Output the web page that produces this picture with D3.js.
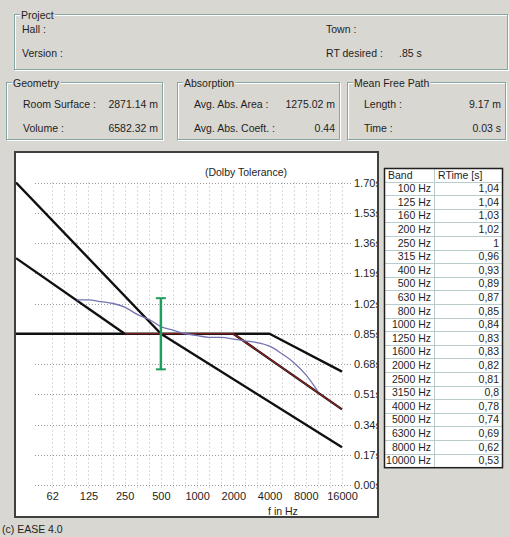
<!DOCTYPE html>
<html>
<head>
<meta charset="utf-8">
<script src="https://cdn.jsdelivr.net/npm/d3@7/dist/d3.min.js"></script>
<style>
  html, body { margin: 0; padding: 0; background: #d9d7d2; }
  svg { display: block; font-family: Arial, "Liberation Sans", sans-serif; font-size: 10.5px; }
  text { fill: #1e1e1e; }
</style>
</head>
<body>
<svg id="chart" width="510" height="537"></svg>
<script>
// Reverberation time per third-octave band (table + measured curve)
const bandLabels = ["100 Hz","125 Hz","160 Hz","200 Hz","250 Hz","315 Hz","400 Hz","500 Hz","630 Hz","800 Hz","1000 Hz",
  "1250 Hz","1600 Hz","2000 Hz","2500 Hz","3150 Hz","4000 Hz","5000 Hz","6300 Hz","8000 Hz","10000 Hz"];
const bandFreqs = [100,125,160,200,250,315,400,500,630,800,1000,1250,1600,2000,2500,3150,4000,5000,6300,8000,10000];
const rtValues = [1.04,1.04,1.03,1.02,1,0.96,0.93,0.89,0.87,0.85,0.84,0.83,0.83,0.82,0.81,0.8,0.78,0.74,0.69,0.62,0.53];
const rtLabels = ["1,04","1,04","1,03","1,02","1","0,96","0,93","0,89","0,87","0,85","0,84","0,83","0,83","0,82","0,81","0,8","0,78","0,74","0,69","0,62","0,53"];

// Axis ticks
const xTickFreqs = [62.5,125,250,500,1000,2000,4000,8000,16000];
const xTickLabels = ["62","125","250","500","1000","2000","4000","8000","16000"];
const yTickValues = [0,0.17,0.34,0.51,0.68,0.85,1.02,1.19,1.36,1.53,1.70];
const gridFreqs = [62.5,78.75,99.2,125,157.5,198.4,250,315,396.9,500,630,793.7,1000,1260,1587,2000,2520,3175,4000,5040,6350,8000,10080,12700,16000];

// Dolby tolerance limit lines (frequency, RT in s)
const limitSteep = [[31.25,1.70],[500,0.85],[16000,0.2125]];
const limitFlat = [[31.25,0.85],[4000,0.85],[16000,0.6375]];
const limitLowBass = [[31.25,1.275],[250,0.85]];
const limitTreble = [[2000,0.85],[16000,0.425]];
const targetCurve = [[250,0.85],[2000,0.85],[16000,0.425]];
const toleranceBar = {freq: 500, low: 0.65, high: 1.05};

// Header info fields
const projectFields = [
  {label:"Hall :", value:"", x:22, y:33},
  {label:"Version :", value:"", x:22, y:57},
  {label:"Town :", value:"", x:326, y:33},
  {label:"RT desired :", value:".85 s", x:326, y:57, vx:399}
];
const groups = [
  {title:"Geometry", x:7, w:156, rows:[["Room Surface :","2871.14 m"],["Volume :","6582.32 m"]]},
  {title:"Absorption", x:178, w:162, rows:[["Avg. Abs. Area :","1275.02 m"],["Avg. Abs. Coeft. :","0.44"]]},
  {title:"Mean Free Path", x:348, w:158, rows:[["Length :","9.17 m"],["Time :","0.03 s"]]}
];

const svg = d3.select("#chart");

// Etched group box
function groupBox(x, y, w, h, title) {
  const g = svg.append("g");
  g.append("rect").attr("x", x + 0.5).attr("y", y + 0.5).attr("width", w).attr("height", h)
    .attr("fill", "none").attr("stroke", "#ffffff");
  g.append("rect").attr("x", x - 0.5).attr("y", y - 0.5).attr("width", w).attr("height", h)
    .attr("fill", "none").attr("stroke", "#86a6a4");
  const t = g.append("text").attr("x", x + 6).attr("y", y + 4).text(title);
  const bb = t.node().getBBox();
  g.insert("rect", "text").attr("x", bb.x - 1).attr("y", bb.y).attr("width", bb.width + 2).attr("height", bb.height)
    .attr("fill", "#d9d7d2");
  return g;
}

groupBox(15, 15, 493, 55, "Project");
projectFields.forEach(f => {
  svg.append("text").attr("x", f.x).attr("y", f.y).text(f.label);
  if (f.value) svg.append("text").attr("x", f.vx).attr("y", f.y).text(f.value);
});

groups.forEach(gr => {
  groupBox(gr.x, 83, gr.w, 57, gr.title);
  gr.rows.forEach((r, i) => {
    svg.append("text").attr("x", gr.x + 16).attr("y", 108 + i * 24).text(r[0]);
    svg.append("text").attr("x", gr.x + gr.w - 5).attr("y", 108 + i * 24).attr("text-anchor", "end").text(r[1]);
  });
});

// Chart panel
const panel = {x: 15, y: 152, w: 363, h: 365};
svg.append("rect").attr("x", panel.x).attr("y", panel.y).attr("width", panel.w).attr("height", panel.h)
  .attr("fill", "#ffffff").attr("stroke", "#404040").attr("stroke-width", 2);
svg.append("defs").append("clipPath").attr("id", "plotClip")
  .append("rect").attr("x", panel.x + 1).attr("y", panel.y + 1).attr("width", panel.w - 2).attr("height", panel.h - 2);

const x = d3.scaleLog().base(2).domain([31.25, 16000]).range([16, 342]);
const y = d3.scaleLinear().domain([0, 1.70]).range([485, 182.5]);

const plot = svg.append("g").attr("clip-path", "url(#plotClip)");

// Dotted grid
plot.append("g").selectAll("line").data(yTickValues).join("line")
  .attr("x1", 35).attr("x2", 352).attr("y1", d => Math.round(y(d)) + 0.5).attr("y2", d => Math.round(y(d)) + 0.5)
  .attr("stroke", "#9a9a9a").attr("stroke-width", 1).attr("stroke-dasharray", "1,2");
plot.append("g").selectAll("line").data(gridFreqs).join("line")
  .attr("x1", d => Math.round(x(d)) + 0.5).attr("x2", d => Math.round(x(d)) + 0.5)
  .attr("y1", y(1.70)).attr("y2", y(0) + 4)
  .attr("stroke", "#b4b4b4").attr("stroke-width", 1).attr("stroke-dasharray", "1,3");

// Y axis labels (right side)
const yAxis = d3.axisRight(y).tickValues(yTickValues).tickSize(0).tickPadding(0).tickFormat(d => d.toFixed(2) + "s");
const yg = plot.append("g").attr("transform", "translate(354,0)").call(yAxis);
yg.select(".domain").remove();
yg.selectAll("text").attr("font-size", 11).attr("font-family", "Arial, 'Liberation Sans', sans-serif").attr("fill", "#1e1e1e");

// X axis labels
const xAxis = d3.axisBottom(x).tickValues(xTickFreqs).tickSize(0).tickPadding(0).tickFormat((d, i) => xTickLabels[i]);
const xg = plot.append("g").attr("transform", "translate(0,492)").call(xAxis);
xg.select(".domain").remove();
xg.selectAll("text").attr("font-size", 11).attr("font-family", "Arial, 'Liberation Sans', sans-serif").attr("fill", "#1e1e1e");
plot.append("text").attr("x", 283).attr("y", 515).attr("text-anchor", "middle").text("f in Hz");

// Title
plot.append("text").attr("x", 246).attr("y", 176).attr("text-anchor", "middle").text("(Dolby Tolerance)");

const line = d3.line().x(d => x(d[0])).y(d => y(d[1]));

// Tolerance limits
[limitSteep, limitFlat, limitLowBass, limitTreble].forEach(pts => {
  plot.append("path").datum(pts).attr("d", line).attr("fill", "none")
    .attr("stroke", "#101010").attr("stroke-width", 2.4).attr("stroke-linejoin", "round");
});
plot.append("path").datum(targetCurve).attr("d", line).attr("fill", "none")
  .attr("stroke", "#a02020").attr("stroke-width", 1.2);

// Measured reverberation time
const rtLine = d3.line().curve(d3.curveMonotoneX).x(d => x(d[0])).y(d => y(d[1]));
plot.append("path").datum(bandFreqs.map((f, i) => [f, rtValues[i]])).attr("d", rtLine)
  .attr("fill", "none").attr("stroke", "#7474b4").attr("stroke-width", 1.3);

// Tolerance bar at 500 Hz
const bx = x(toleranceBar.freq);
plot.append("line").attr("x1", bx).attr("x2", bx).attr("y1", y(toleranceBar.high)).attr("y2", y(toleranceBar.low))
  .attr("stroke", "#1f9e5e").attr("stroke-width", 2.5);
[toleranceBar.high, toleranceBar.low].forEach(v => {
  plot.append("line").attr("x1", bx - 5).attr("x2", bx + 5).attr("y1", y(v)).attr("y2", y(v))
    .attr("stroke", "#1f9e5e").attr("stroke-width", 2);
});

// RT table
const tbl = {x: 384, y: 168, w: 118, rowH: 13.6, col: 50};
const rows = [["Band", "RTime [s]"]].concat(bandLabels.map((b, i) => [b, rtLabels[i]]));
const tg = svg.append("g");
tg.append("rect").attr("x", tbl.x).attr("y", tbl.y).attr("width", tbl.w).attr("height", rows.length * tbl.rowH)
  .attr("fill", "#ffffff");
rows.forEach((r, i) => {
  const ry = tbl.y + i * tbl.rowH;
  if (i > 0) tg.append("line").attr("x1", tbl.x).attr("x2", tbl.x + tbl.w).attr("y1", Math.round(ry) + 0.5).attr("y2", Math.round(ry) + 0.5)
    .attr("stroke", "#b9cccc");
  if (i === 0) {
    tg.append("text").attr("x", tbl.x + 4).attr("y", ry + 10.5).text(r[0]);
    tg.append("text").attr("x", tbl.x + tbl.col + 4).attr("y", ry + 10.5).text(r[1]);
  } else {
    tg.append("text").attr("x", tbl.x + tbl.col - 3).attr("y", ry + 10.5).attr("text-anchor", "end").text(r[0]);
    tg.append("text").attr("x", tbl.x + tbl.w - 3).attr("y", ry + 10.5).attr("text-anchor", "end").text(r[1]);
  }
});
tg.append("line").attr("x1", tbl.x + tbl.col + 0.5).attr("x2", tbl.x + tbl.col + 0.5)
  .attr("y1", tbl.y).attr("y2", tbl.y + rows.length * tbl.rowH).attr("stroke", "#b9cccc");
tg.append("rect").attr("x", tbl.x + 0.5).attr("y", tbl.y + 0.5).attr("width", tbl.w).attr("height", rows.length * tbl.rowH)
  .attr("fill", "none").attr("stroke", "#202020").attr("stroke-width", 1.5);

// Footer
svg.append("text").attr("x", 2).attr("y", 533).text("(c) EASE 4.0");
</script>
</body>
</html>
